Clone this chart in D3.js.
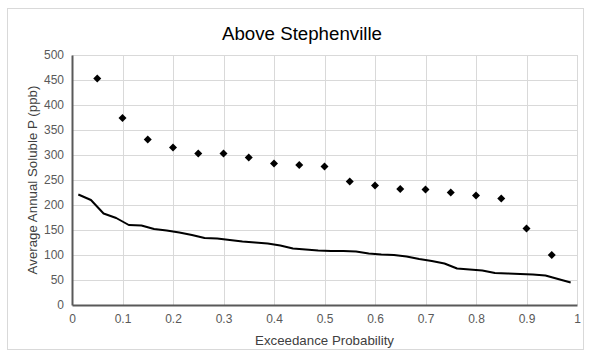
<!DOCTYPE html>
<html><head><meta charset="utf-8">
<script src="https://cdn.jsdelivr.net/npm/d3@7"></script>
<style>
html,body{margin:0;padding:0;background:#fff;}
text{font-family:"Liberation Sans",Arial,sans-serif;}
</style></head>
<body>
<svg id="chart" width="590" height="356"></svg>
<script>
const title = "Above Stephenville";
const xTitle = "Exceedance Probability";
const yTitle = "Average Annual Soluble P (ppb)";
const xTicks = [0,0.1,0.2,0.3,0.4,0.5,0.6,0.7,0.8,0.9,1];
const yTicks = [0,50,100,150,200,250,300,350,400,450,500];

// Observed points (diamonds)
const pointProb = [0.05,0.10,0.15,0.20,0.25,0.30,0.35,0.40,0.45,0.50,0.55,0.60,0.65,0.70,0.75,0.80,0.85,0.90,0.95];
const pointVal  = [453,374,331,315,303,303,295,283,280,277,247,239,232,231,225,219,213,153,100];

// Curve (line)
const lineProb = [0.0125,0.0375,0.0625,0.0875,0.1125,0.1375,0.1625,0.1875,0.2125,0.2375,
                  0.2625,0.2875,0.3125,0.3375,0.3625,0.3875,0.4125,0.4375,0.4625,0.4875,
                  0.5125,0.5375,0.5625,0.5875,0.6125,0.6375,0.6625,0.6875,0.7125,0.7375,
                  0.7625,0.7875,0.8125,0.8375,0.8625,0.8875,0.9125,0.9375,0.9625,0.9875];
const lineVal  = [221,210,183,174,160,159,152,149,145,140,
                  134,133,130,127,125,123,119,113,111,109,
                  108,108,107,103,101,100,97,92,88,83,
                  73,71,69,64,63,62,61,59,52,45];

const svg = d3.select("#chart");
const W = 590, H = 356;
const m = {left:72, right:13, top:55, bottom:51};
const x = d3.scaleLinear().domain([0,1]).range([m.left, W - m.right]);
const y = d3.scaleLinear().domain([0,500]).range([H - m.bottom, m.top]);

// chart border
svg.append("rect").attr("x",7.5).attr("y",8.5).attr("width",576).attr("height",341)
  .attr("fill","#fff").attr("stroke","#d9d9d9").attr("stroke-width",1);

// gridlines
svg.append("g").selectAll("line").data(yTicks.filter(d=>d>0)).join("line")
  .attr("x1",x(0)).attr("x2",x(1)).attr("y1",d=>Math.round(y(d))+0.5).attr("y2",d=>Math.round(y(d))+0.5)
  .attr("stroke","#d9d9d9").attr("stroke-width",1);
svg.append("g").selectAll("line").data(xTicks.filter(d=>d>0)).join("line")
  .attr("y1",y(0)).attr("y2",y(500)).attr("x1",d=>Math.round(x(d))+0.5).attr("x2",d=>Math.round(x(d))+0.5)
  .attr("stroke","#d9d9d9").attr("stroke-width",1);

// axes
const xAxis = svg.append("g").attr("transform",`translate(0,${y(0)})`)
  .call(d3.axisBottom(x).tickValues(xTicks).tickSize(0).tickPadding(9).tickFormat(d3.format("")));
const yAxis = svg.append("g").attr("transform",`translate(${x(0)},0)`)
  .call(d3.axisLeft(y).tickValues(yTicks).tickSize(0).tickPadding(8));
[xAxis,yAxis].forEach(a=>{
  a.select(".domain").attr("stroke","#595959").attr("stroke-width",2);
  a.selectAll("text").attr("fill","#595959").style("font-size","12px").style("font-family","'Liberation Sans',Arial,sans-serif");
});

// line
svg.append("path")
  .datum(lineProb.map((p,i)=>[p,lineVal[i]]))
  .attr("fill","none").attr("stroke","#000").attr("stroke-width",2).attr("stroke-linejoin","round")
  .attr("d", d3.line().x(d=>x(d[0])).y(d=>y(d[1])));

// diamonds
const sym = d3.symbol().type(d3.symbolSquare).size(32);
svg.append("g").selectAll("path").data(pointProb.map((p,i)=>[p,pointVal[i]])).join("path")
  .attr("d", sym)
  .attr("transform", d=>`translate(${x(d[0])},${y(d[1])}) rotate(45)`)
  .attr("fill","#000");

// titles
svg.append("text").attr("x",302).attr("y",40).attr("text-anchor","middle")
  .attr("fill","#000").style("font-size","18.7px").text(title);
svg.append("text").attr("x",(x(0)+x(1))/2).attr("y",345).attr("text-anchor","middle")
  .attr("fill","#404040").style("font-size","13.3px").text(xTitle);
svg.append("text").attr("transform",`translate(37,${(y(0)+y(500))/2}) rotate(-90)`).attr("text-anchor","middle")
  .attr("fill","#404040").style("font-size","13.3px").text(yTitle);
</script>
</body></html>
